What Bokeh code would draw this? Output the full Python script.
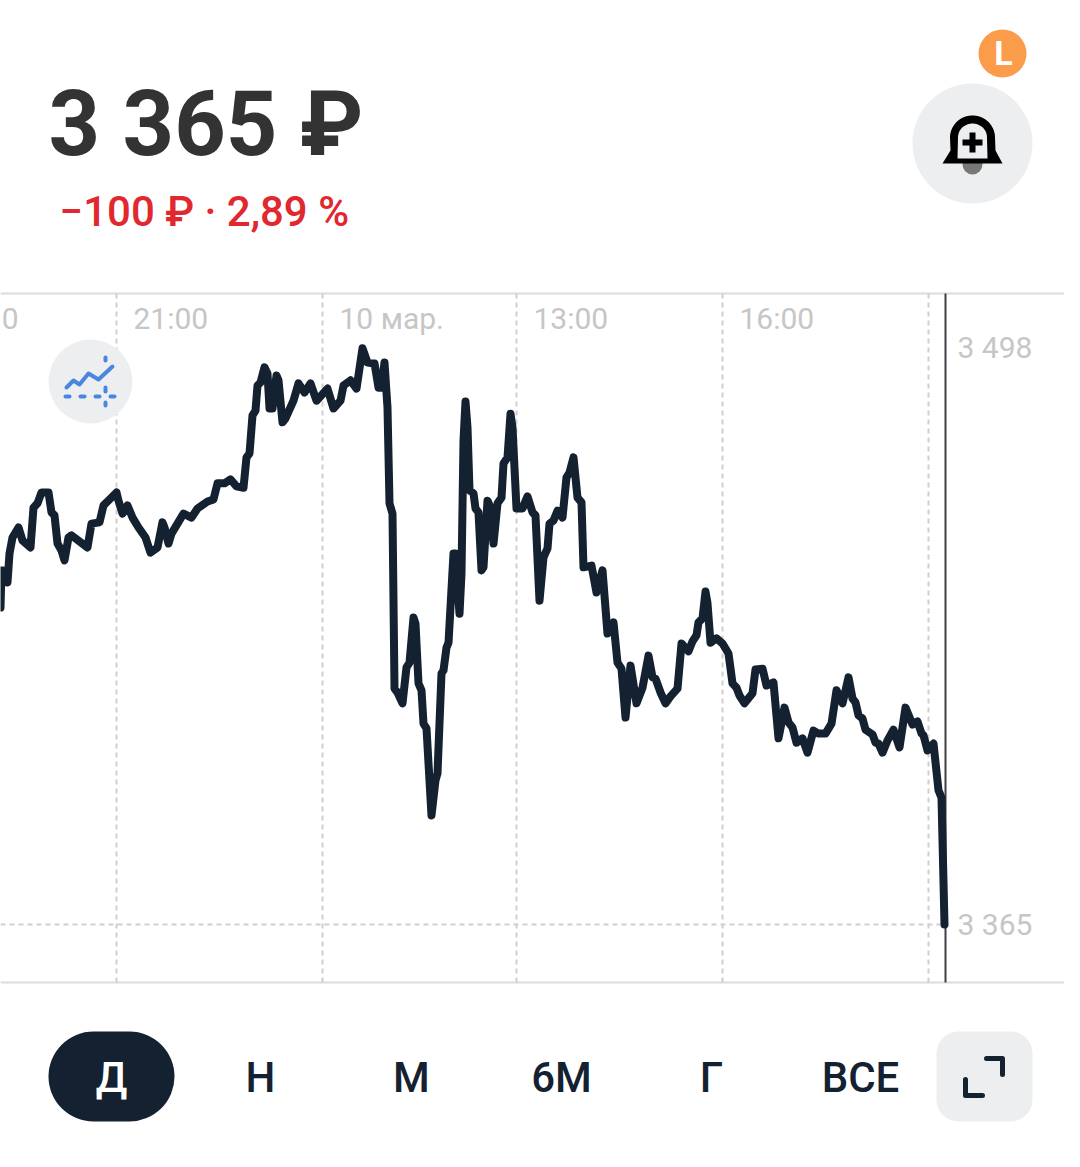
import numpy as np
from bokeh.plotting import figure
from bokeh.models import Range1d
from bokeh.core.properties import value
from bokeh.embed import file_html
from bokeh.resources import INLINE

# session time, chart ticks (one tick is about 52 seconds)
t = [0,1,3,7,9,12,18,22,30,33,37,41,48,51,54,57,61,64,68,71,87,91,99,103,110,116,118,122,127,132,
     138,145,150,157,162,164,168,171,183,191,197,207,213,217,224,230,236,243,246,249,252,255,257,260,264,267,269,272,276,278,
     282,285,293,298,304,310,316,327,333,340,343,350,356,362,367,374,378,381,384,387,389,392,394,397,402,406,409,413,415,418,
     421,423,426,431,435,437,441,443,446,448,453,455,459,461,463,465,467,469,473,475,478,481,483,487,490,493,497,501,503,507,
     510,512,516,522,527,532,535,539,543,547,549,553,557,562,566,569,573,577,581,583,591,596,602,607,613,617,621,625,630,636,
     642,648,652,655,660,665,670,677,681,688,692,696,698,702,705,707,710,716,722,728,732,736,739,744,752,755,762,766,773,778,
     784,788,792,796,802,807,813,818,825,831,836,842,848,852,855,858,862,865,872,875,878,882,887,893,899,905,912,917,921,923,
     927,933,938,941,944]
# price, rubles
price = [3438.2,3446.8,3446.8,3444.0,3450.7,3454.4,3456.7,3453.7,3452.1,3461.3,3462.3,3464.8,3464.8,3460.2,3459.5,3453.0,3451.4,3449.1,3454.4,3454.9,3452.1,3457.6,3457.9,3461.8,3463.4,3464.8,3462.9,3459.9,3461.8,3459.0,
         3456.7,3454.4,3450.9,3452.1,3457.9,3456.7,3453.0,3455.3,3459.9,3459.0,3461.1,3462.7,3463.2,3466.9,3466.9,3467.8,3466.2,3465.9,3472.9,3473.8,3482.6,3483.7,3489.5,3490.2,3493.7,3492.3,3484.2,3484.2,3491.8,3490.7,
         3481.0,3481.9,3486.0,3490.0,3487.9,3490.0,3486.0,3488.8,3484.2,3486.0,3489.5,3490.7,3488.8,3498.1,3494.8,3494.6,3489.0,3489.0,3494.8,3484.4,3462.3,3459.9,3419.5,3418.6,3416.1,3424.4,3425.5,3435.9,3434.5,3420.7,
         3419.1,3411.4,3410.3,3390.2,3398.3,3399.9,3423.0,3423.7,3429.0,3430.1,3450.7,3450.7,3436.8,3446.1,3476.8,3485.8,3479.8,3465.3,3464.6,3461.1,3460.2,3446.8,3447.5,3462.9,3461.3,3453.0,3462.3,3463.6,3471.5,3472.9,
         3483.0,3479.8,3461.1,3461.1,3463.9,3460.2,3459.5,3439.8,3449.8,3451.9,3457.6,3458.3,3460.6,3459.0,3468.3,3469.4,3472.9,3463.6,3462.5,3447.5,3447.9,3441.7,3446.8,3432.2,3434.8,3425.5,3424.1,3412.8,3424.8,3416.1,
         3419.7,3427.1,3422.1,3421.8,3418.6,3416.1,3417.7,3419.5,3429.9,3428.1,3430.4,3431.8,3434.8,3435.7,3441.9,3439.2,3430.1,3431.1,3429.9,3427.6,3420.7,3419.7,3417.9,3416.1,3418.4,3423.9,3424.1,3420.2,3420.9,3408.0,
         3415.1,3411.7,3410.5,3407.0,3408.0,3404.7,3409.8,3409.1,3409.1,3411.4,3419.1,3416.1,3422.1,3417.2,3416.3,3413.3,3412.6,3410.0,3408.9,3407.0,3406.8,3404.7,3407.5,3410.0,3405.9,3415.1,3411.2,3411.9,3409.1,3408.7,
         3405.2,3406.8,3396.0,3394.3,3365.0]

grid_t = [116, 322, 516, 722, 928]
tick_labels = ["21:00", "10 мар.", "13:00", "16:00"]
tick_label_t = [133, 339, 533, 739]
last_price = 3365.0
high_price = 3498.0
cursor_t = 945
period_labels = ["Д", "Н", "М", "6М", "Г", "ВСЕ"]
period_x = [111, 260, 411, 561, 711, 860]

PX_PER_RUB = 1 / 0.231
W, H = 1064, 1151
p = figure(width=W, height=H, output_backend="svg", toolbar_location=None,
           x_axis_type=None, y_axis_type=None, min_border=0,
           x_range=Range1d(0, W),
           y_range=Range1d(last_price + (924 - H) / PX_PER_RUB, last_price + 924 / PX_PER_RUB))
p.outline_line_color = None
p.grid.visible = False
p.extra_x_ranges["ui"] = Range1d(0, W)
p.extra_y_ranges["ui"] = Range1d(H, 0)
UI = dict(x_range_name="ui", y_range_name="ui")
FONT = value("Roboto")
MEDIUM = value("Roboto Medium")
GREY = "#c6c6c6"
DARK = "#142130"
PANEL = "#eceef0"

# frame rules
p.segment(x0=[0, 0], x1=[W, W], y0=[293, 982], y1=[293, 982], line_color="#dcdcdc", line_width=2, **UI)
# dashed grid
p.segment(x0=grid_t, x1=grid_t, y0=[293]*5, y1=[982]*5, line_color="#cfcfcf", line_width=2, line_dash="5 4",
          x_range_name="default", y_range_name="ui")
p.segment(x0=[0], x1=[945], y0=[last_price], y1=[last_price], line_color="#cfcfcf", line_width=2, line_dash="5 4")
# cursor
p.segment(x0=[cursor_t], x1=[cursor_t], y0=[293], y1=[982], line_color="#3f3f46", line_width=2,
          x_range_name="default", y_range_name="ui")

# price line
p.line(t, price, line_color=DARK, line_width=8, line_join="round", line_cap="round")

# tick labels
p.text(x=tick_label_t, y=[318]*4, text=tick_labels, text_font=FONT, text_font_size="30px", text_color=GREY,
       text_baseline="middle", x_range_name="default", y_range_name="ui")
p.text(x=[18], y=[318], text=["0"], text_font=FONT, text_font_size="30px", text_color=GREY,
       text_align="right", text_baseline="middle", x_range_name="default", y_range_name="ui")
p.text(x=[957, 957], y=[high_price + 0.2, last_price], text=["3 498", "3 365"], text_font=FONT, text_font_size="30px",
       text_color=GREY, text_baseline="middle")

# header
p.text(x=[48], y=[124], text=["3 365 ₽"], text_font=FONT, text_font_size="90px", text_font_style="bold",
       text_color="#333333", text_baseline="middle", **UI)
p.text(x=[59], y=[211], text=["−100 ₽ · 2,89 %"], text_font=MEDIUM, text_font_size="42px",
       text_color="#e0282e", text_baseline="middle", **UI)

# orange badge
p.scatter(x=[1002], y=[53], size=48, marker="circle", fill_color="#fb9c4a", line_color=None, **UI)
p.text(x=[1003], y=[52], text=["L"], text_font=FONT, text_font_size="34px", text_font_style="bold",
       text_color="white", text_align="center", text_baseline="middle", **UI)

# alert button
p.scatter(x=[972], y=[143], size=120, marker="circle", fill_color=PANEL, line_color=None, **UI)
th = np.linspace(np.pi, 0, 30)
bx = list(972 + 22.5*np.cos(th)) + [995, 1002, 942, 950]
by = list(137 + 22*np.sin(-th) ) + [150, 163, 163, 150]
p.scatter(x=[972], y=[164], size=20, marker="circle", fill_color="#777777", line_color=None, **UI)
p.patch(bx, by, fill_color="black", line_color=None, **UI)
ix = list(972 + 14.5*np.cos(th)) + [987, 957]
iy = list(137 + 14*np.sin(-th)) + [158, 158]
p.patch(ix, iy, fill_color=PANEL, line_color=None, **UI)
p.segment(x0=[962, 972], x1=[982, 972], y0=[142, 132], y1=[142, 152], line_color="black", line_width=6, **UI)

# indicators button
p.scatter(x=[90], y=[381], size=84, marker="circle", fill_color=PANEL, line_color=None, **UI)
p.line([66, 73, 79, 88, 98, 112], [387, 380, 384, 373, 379, 366], line_color="#4a86e0", line_width=4,
       line_join="round", line_cap="round", **UI)
p.segment(x0=[65, 80, 95, 110, 105, 105, 105], x1=[69, 84, 99, 114, 105, 105, 105],
          y0=[396, 396, 396, 396, 357, 387, 402], y1=[396, 396, 396, 396, 360, 391, 405],
          line_color="#4a86e0", line_width=4, line_cap="round", **UI)

# period buttons
p.quad(left=[48], right=[174], top=[1031], bottom=[1121], fill_color=DARK, line_color=None, border_radius=45, **UI)
p.quad(left=[936], right=[1032], top=[1031], bottom=[1121], fill_color=PANEL, line_color=None, border_radius=22, **UI)
p.text(x=period_x, y=[1077]*6, text=period_labels, text_font=MEDIUM, text_font_size="42px",
       text_color=["white"] + [DARK]*5, text_align="center", text_baseline="middle", **UI)
p.multi_line(xs=[[986, 1002, 1002], [965, 965, 982]], ys=[[1058, 1058, 1074], [1079, 1095, 1095]],
             line_color=DARK, line_width=5, line_cap="round", line_join="round", **UI)

open("out.html", "w").write(file_html(p, INLINE))
